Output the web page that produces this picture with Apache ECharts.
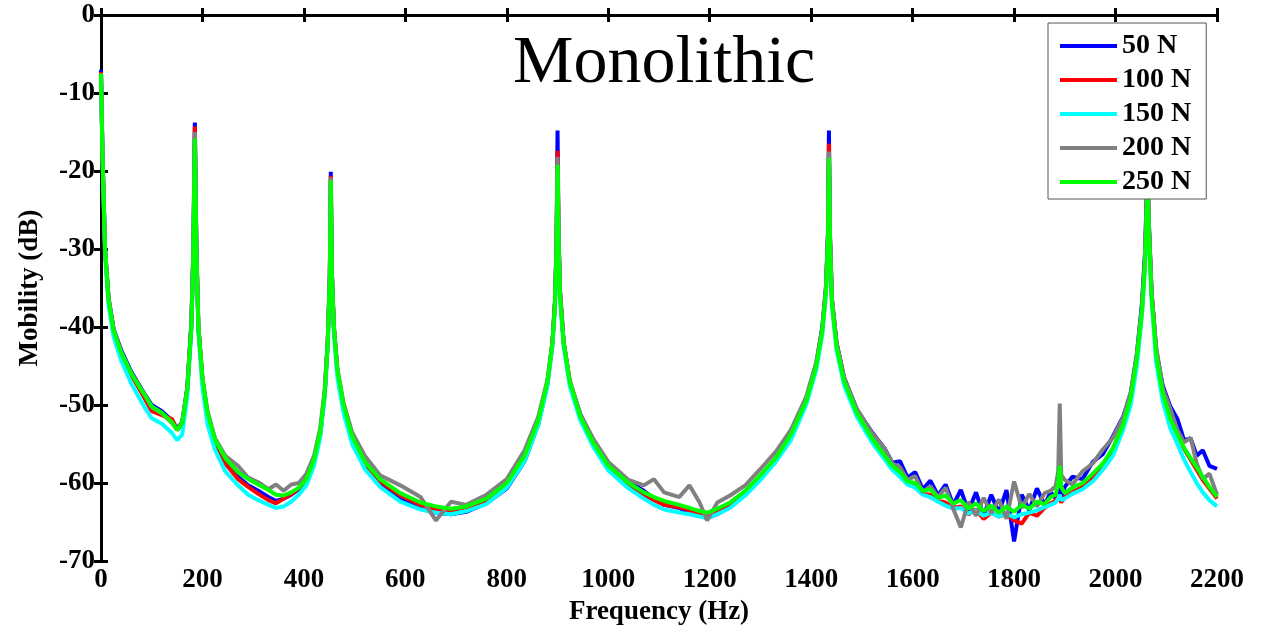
<!DOCTYPE html>
<html>
<head>
<meta charset="utf-8">
<script src="https://cdn.jsdelivr.net/npm/echarts@6/dist/echarts.min.js"></script>
<style>
  html, body { margin: 0; padding: 0; background: #fff; }
  #chart { width: 1262px; height: 633px; }
</style>
</head>
<body>
<div id="chart"></div>
<script>
// frequency points (Hz), shared by every curve
const freq = [
  0, 3, 8, 15, 25, 40, 60, 85, 100, 120,
  140, 150, 160, 170, 178, 182, 185, 188, 192, 200,
  210, 225, 245, 270, 290, 310, 330, 345, 360, 375,
  390, 405, 420, 432, 441, 447, 451, 453, 455, 459,
  466, 478, 495, 520, 550, 590, 630, 660, 690, 720,
  760, 800, 835, 862, 880, 890, 895, 898, 900, 902,
  905, 912, 924, 945, 970, 1000, 1040, 1070, 1090, 1110,
  1140, 1160, 1180, 1195, 1215, 1240, 1270, 1300, 1330, 1360,
  1390, 1410, 1422, 1429, 1433, 1435, 1437, 1441, 1450, 1465,
  1490, 1520,
  1545, 1560, 1575, 1590, 1605, 1620, 1635, 1650, 1665, 1680,
  1695, 1710, 1725, 1740, 1755, 1770, 1785, 1800, 1815, 1830,
  1845, 1860, 1872,
  1882, 1887, 1890, 1893, 1900, 1915, 1935, 1955, 1975, 1995,
  2015, 2030, 2042, 2052, 2058, 2061, 2063, 2066, 2071, 2080,
  2093, 2108, 2122, 2135, 2148, 2160, 2172, 2185, 2200
];

// mobility (dB) for each preload
const n50 = [
  -7, -18, -30, -36.3, -40.3, -43, -45.8, -48.5, -50, -50.8,
  -52, -53, -52.2, -47.8, -39.5, -30, -13.8, -29.5, -40, -46.8,
  -51.3, -54.8, -57.3, -59.2, -60.3, -61, -61.8, -62.3, -62, -61.5,
  -60.8, -59.7, -57.3, -53.8, -48.5, -41.8, -33.5, -20.1, -32.5, -40,
  -45.8, -50.3, -54.5, -57.8, -60.2, -62, -63.3, -63.8, -64, -63.7,
  -62.6, -60.7, -57.2, -52.5, -47.3, -42, -36.5, -29, -14.8, -28,
  -35.5, -42, -47, -51.2, -54.5, -57.5, -59.8, -61, -62, -62.8,
  -63.2, -63.8, -64.2, -64.5, -64, -63, -61.5, -59.5, -57, -53.8,
  -49.3, -44.8, -40, -35, -28, -14.8, -28, -36.5, -42, -46.5,
  -50.6, -53.5,
  -55.6, -57.4, -57.2, -59.3, -58.6, -60.8, -59.7, -61.6, -60.2, -62.8,
  -60.9, -63.6, -61.2, -64.2, -61.5, -63.8, -60.9, -67.5, -61.5, -63.5,
  -60.7, -62.8, -61.2,
  -62, -61.5, -60, -61.8, -60.5, -59.2, -59.5, -57.3, -56.3, -54,
  -51.5, -48.5, -43.5, -37, -30.5, -24, -20, -27, -35.5, -43,
  -47.5, -50.2, -51.8, -54.5, -54.3, -56.5, -55.8, -57.8, -58.2
];
const n100 = [
  -7.3, -18.2, -30.3, -36.8, -40.8, -43.6, -46.2, -49, -50.8, -51.3,
  -51.8, -53.2, -52.4, -48.2, -40, -30.5, -14.3, -29.8, -40, -46.8,
  -51.5, -55, -57.5, -59.5, -60.5, -61.4, -62.2, -62.6, -62, -61.4,
  -60.7, -59.6, -57.2, -53.7, -48.5, -42, -33.8, -20.6, -32.8, -40,
  -45.6, -50.2, -54.3, -57.5, -59.8, -61.6, -62.8, -63.3, -63.5, -63.2,
  -62.2, -60.2, -56.8, -52.2, -47.2, -42, -36.8, -29.5, -17.4, -28.6,
  -35.8, -42, -47, -51.5, -54.8, -57.9, -60.2, -61.5, -62.2, -62.8,
  -63.1, -63.5, -64, -64.1, -63.5, -62.7, -61.2, -59.2, -57, -54,
  -49.6, -45, -40.3, -35.3, -28.6, -16.5, -28.5, -36.7, -42.3, -46.8,
  -51, -54.4,
  -56.8, -58, -58.9, -60, -60.5, -61.4, -61.5, -62.3, -62.5, -63.2,
  -63, -64, -63.4, -64.6, -63.8, -64.3, -64, -64.8, -65.2, -63.8,
  -64.2, -63.2, -62.6,
  -62.3, -61.6, -61.8, -62.5, -61.8, -61.2, -60.5, -59.3, -57.8, -55.8,
  -52.8, -49.3, -44.2, -38, -31.5, -25, -21, -27.5, -35.5, -43,
  -48, -51.3, -53.6, -55.6, -57, -58.3, -59.6, -60.7, -62
];
const n150 = [
  -7.8, -18.5, -30.8, -37.3, -41.3, -44.3, -47.3, -50.2, -51.7, -52.4,
  -53.6, -54.5, -53.8, -49, -40.5, -31.5, -16, -30.5, -40.8, -47.8,
  -52.5, -55.8, -58.5, -60.3, -61.5, -62.2, -62.8, -63.2, -63, -62.4,
  -61.5, -60.3, -57.8, -54.2, -49, -42.5, -34.5, -21.5, -33.5, -40.8,
  -46.5, -51, -55, -58.2, -60.5, -62.4, -63.4, -63.8, -64, -63.6,
  -62.7, -60.6, -57.2, -52.6, -47.6, -42.5, -37.5, -30.5, -19.8, -29.5,
  -36.5, -42.5, -47.6, -52, -55.3, -58.4, -60.7, -62, -62.8, -63.4,
  -63.8, -64, -64.3, -64.5, -64, -63.2, -61.6, -59.6, -57.3, -54.5,
  -50, -45.5, -41, -36, -29.5, -18.8, -29.5, -37.3, -43, -47.5,
  -51.5, -54.8,
  -57, -58.3, -59.2, -60.2, -60.6, -61.5, -61.8, -62.4, -62.9, -63.3,
  -63.2, -63.9, -63.5, -64.2, -63.8, -64.3, -63.9, -64.4, -64, -63.8,
  -63.5, -63.1, -62.8,
  -62.5, -62, -61.5, -62.2, -62, -61.4, -60.8, -59.8, -58.3, -56.5,
  -53.2, -50, -45, -38.5, -32.5, -26.5, -22, -28.5, -36.5, -44.5,
  -49.5, -53, -55, -57, -58.6, -60, -61.2, -62.2, -63
];
const n200 = [
  -7.5, -18, -30, -36.4, -40.4, -43.2, -46, -48.6, -50.3, -51.1,
  -52.3, -53.2, -52.3, -48, -40, -31, -15, -30, -40, -46.5,
  -50.8, -54.3, -56.5, -57.8, -59.3, -59.9, -60.8, -60.2, -61, -60.2,
  -60, -58.8, -56.5, -53, -48, -41.5, -33.5, -20.8, -33, -39.8,
  -45.3, -49.7, -53.5, -56.5, -59, -60.3, -61.8, -64.8, -62.4, -62.8,
  -61.5, -59.5, -55.8, -51.5, -46.8, -41.8, -36.8, -29.8, -18.2, -28.6,
  -35.5, -41.8, -46.8, -51.2, -54.3, -57.3, -59.6, -60.3, -59.5, -61.2,
  -61.8, -60.3, -62.5, -64.8, -62.5, -61.6, -60.3, -58.2, -56, -53.2,
  -49, -44.5, -40, -35, -28.5, -17.5, -28.3, -36.3, -42, -46.5,
  -50.5, -53.6,
  -55.6, -57.5, -58, -59.6, -59.1, -61.2, -60.4, -61.8, -60.6, -63.3,
  -65.7, -62.4, -64.2, -61.9, -63.9, -62.1, -64.6, -59.8, -63.2, -61.4,
  -63, -61.3, -61,
  -60.4, -58.5, -49.8, -59, -59.6, -60.2, -58.5, -57.5, -55.7, -54.2,
  -51.6, -48.3, -43.5, -37.3, -31, -24.5, -21, -27.5, -35.5, -42.5,
  -47.8, -50.5, -53.2, -54.8, -54.2, -57.5, -59.5, -58.8, -61.5
];
const n250 = [
  -7.5, -18, -30, -36.5, -40.5, -43.3, -46, -48.6, -50.2, -51,
  -52.2, -53.2, -52.3, -48, -40, -31, -15.8, -30, -40, -46.5,
  -51, -54.5, -56.8, -58.6, -59.5, -60.2, -60.9, -61.5, -61.6, -61.2,
  -60.6, -59.5, -57, -53.5, -48.5, -42, -34, -21.2, -33, -40,
  -45.5, -50, -54, -57.3, -59.5, -61.3, -62.5, -63, -63.3, -63,
  -62, -60, -56.5, -52, -47, -42, -37, -30, -19.2, -29,
  -36, -42, -47, -51.5, -54.8, -57.8, -60, -61.2, -61.8, -62.3,
  -62.8, -63.2, -63.6, -63.8, -63.3, -62.5, -61, -59, -56.8, -53.8,
  -49.5, -45, -40.5, -35.5, -29, -18.3, -29, -37, -42.5, -47,
  -51, -54.3,
  -56.5, -57.8, -58.6, -59.8, -60, -61, -60.8, -61.9, -61.6, -62.6,
  -62.2, -63.3, -62.6, -63.6, -62.9, -63.8, -63, -63.7, -62.8, -63.3,
  -62.4, -62.7, -61.8,
  -61.5, -60, -57.8, -60.5, -61.3, -60.6, -60, -58.8, -57.5, -55.5,
  -52.5, -49, -44, -38, -32, -26, -21.5, -28, -36, -43.5,
  -48.5, -51.8, -53.8, -55.5, -56.8, -58, -59.2, -60.5, -61.8
];

const names = ['50 N', '100 N', '150 N', '200 N', '250 N'];
const colors = ['#0000ff', '#ff0000', '#00ffff', '#808080', '#00ff00'];
const curves = [n50, n100, n150, n200, n250];

const serif = '"Liberation Serif", "Times New Roman", serif';
const chart = echarts.init(document.getElementById('chart'));

const tickLine = { show: true, inside: true, length: 7, lineStyle: { color: '#000', width: 3 } };
const axisLineStyle = { show: true, lineStyle: { color: '#000', width: 3 } };

chart.setOption({
  animation: false,
  backgroundColor: '#fff',
  title: {
    text: 'Monolithic',
    left: 508,
    top: 25,
    textStyle: { fontFamily: serif, fontWeight: 'normal', fontSize: 68, color: '#000' }
  },
  legend: {
    orient: 'vertical',
    left: 1048,
    top: 23,
    padding: [9, 15, 3, 12],
    itemGap: 6,
    itemWidth: 57,
    itemHeight: 4,
    icon: 'rect',
    backgroundColor: '#fff',
    borderColor: '#555',
    borderWidth: 1,
    borderRadius: 0,
    data: names,
    textStyle: { fontFamily: serif, fontWeight: 'bold', fontSize: 28, color: '#000' }
  },
  grid: { left: 101, right: 45, top: 15, bottom: 72, containLabel: false },
  xAxis: [
    {
      type: 'value', min: 0, max: 2200, interval: 200,
      name: 'Frequency (Hz)', nameLocation: 'middle', nameGap: 30,
      nameTextStyle: { fontFamily: serif, fontWeight: 'bold', fontSize: 27, color: '#000' },
      axisLine: axisLineStyle, axisTick: tickLine,
      axisLabel: { fontFamily: serif, fontWeight: 'bold', fontSize: 27, color: '#000', margin: 6,
        formatter: v => String(v) },
      splitLine: { show: false }
    },
    {
      type: 'value', min: 0, max: 2200, interval: 200, position: 'top',
      axisLine: axisLineStyle, axisTick: tickLine,
      axisLabel: { show: false }, splitLine: { show: false }
    }
  ],
  yAxis: [
    {
      type: 'value', min: -70, max: 0, interval: 10,
      name: 'Mobility (dB)', nameLocation: 'middle', nameGap: 57,
      nameTextStyle: { fontFamily: serif, fontWeight: 'bold', fontSize: 27, color: '#000' },
      axisLine: axisLineStyle, axisTick: tickLine,
      axisLabel: { fontFamily: serif, fontWeight: 'bold', fontSize: 27, color: '#000', margin: 6 },
      splitLine: { show: false }
    },
    {
      type: 'value', min: -70, max: 0, interval: 10, position: 'right',
      axisLine: axisLineStyle, axisTick: tickLine,
      axisLabel: { show: false }, splitLine: { show: false }
    }
  ],
  series: curves.map((vals, k) => ({
    name: names[k],
    type: 'line',
    xAxisIndex: 0,
    yAxisIndex: 0,
    showSymbol: false,
    symbol: 'none',
    color: colors[k],
    lineStyle: { color: colors[k], width: 4 },
    data: freq.map((f, i) => [f, vals[i]])
  }))
});
</script>
</body>
</html>
